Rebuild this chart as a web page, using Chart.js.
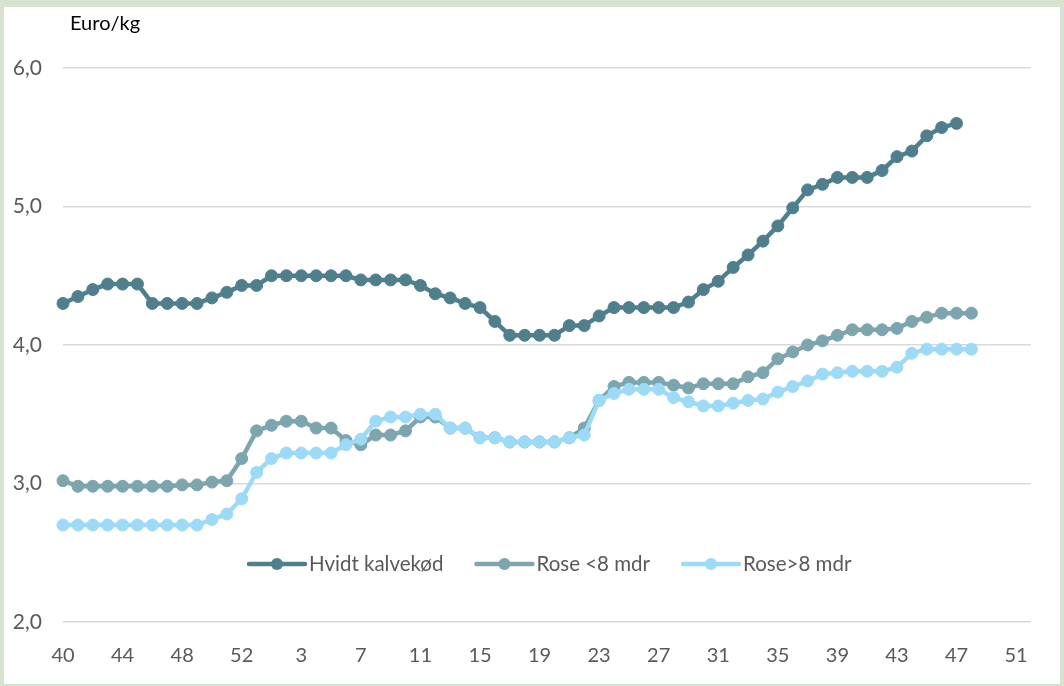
<!DOCTYPE html>
<html>
<head>
<meta charset="utf-8">
<script src="https://cdn.jsdelivr.net/npm/chart.js@4/dist/chart.umd.min.js"></script>
<style>
  html, body { margin: 0; padding: 0; background: #d7e3cf; }
  #frame { position: absolute; left: 4px; top: 7px; width: 1056px; height: 677px; background: #fff; }
  canvas { display: block; }
</style>
</head>
<body>
<div id="frame"><canvas id="c" width="1056" height="677"></canvas></div>
<script>
// uger: 40-53 og 1-52
const weeks = [40, 41, 42, 43, 44, 45, 46, 47, 48, 49, 50, 51, 52, 53,
  1, 2, 3, 4, 5, 6, 7, 8, 9, 10, 11, 12, 13, 14, 15, 16, 17, 18, 19, 20,
  21, 22, 23, 24, 25, 26, 27, 28, 29, 30, 31, 32, 33, 34, 35, 36, 37, 38,
  39, 40, 41, 42, 43, 44, 45, 46, 47, 48, 49, 50, 51, 52];

const hvidt = [4.30, 4.35, 4.40, 4.44, 4.44, 4.44, 4.30, 4.30, 4.30, 4.30, 4.34, 4.38, 4.43, 4.43,
  4.50, 4.50, 4.50, 4.50, 4.50, 4.50, 4.47, 4.47, 4.47, 4.47, 4.43, 4.37, 4.34, 4.30, 4.27, 4.17,
  4.07, 4.07, 4.07, 4.07, 4.14, 4.14, 4.21, 4.27, 4.27, 4.27, 4.27, 4.27, 4.31, 4.40, 4.46, 4.56,
  4.65, 4.75, 4.86, 4.99, 5.12, 5.16, 5.21, 5.21, 5.21, 5.26, 5.36, 5.40, 5.51, 5.57, 5.60];

const roseUnder8 = [3.02, 2.98, 2.98, 2.98, 2.98, 2.98, 2.98, 2.98, 2.99, 2.99, 3.01, 3.02, 3.18, 3.38,
  3.42, 3.45, 3.45, 3.40, 3.40, 3.31, 3.28, 3.35, 3.35, 3.38, 3.48, 3.48, 3.40, 3.40, 3.33, 3.33,
  3.30, 3.30, 3.30, 3.30, 3.33, 3.40, 3.60, 3.70, 3.73, 3.73, 3.73, 3.71, 3.69, 3.72, 3.72, 3.72,
  3.77, 3.80, 3.90, 3.95, 4.00, 4.03, 4.07, 4.11, 4.11, 4.11, 4.12, 4.17, 4.20, 4.23, 4.23, 4.23];

const roseOver8 = [2.70, 2.70, 2.70, 2.70, 2.70, 2.70, 2.70, 2.70, 2.70, 2.70, 2.74, 2.78, 2.89, 3.08,
  3.18, 3.22, 3.22, 3.22, 3.22, 3.28, 3.32, 3.45, 3.48, 3.48, 3.50, 3.50, 3.40, 3.40, 3.33, 3.33,
  3.30, 3.30, 3.30, 3.30, 3.33, 3.35, 3.60, 3.65, 3.68, 3.68, 3.68, 3.62, 3.59, 3.56, 3.56, 3.58,
  3.60, 3.61, 3.66, 3.70, 3.74, 3.79, 3.80, 3.81, 3.81, 3.81, 3.84, 3.94, 3.97, 3.97, 3.97, 3.97];

const seriesNames = ['Hvidt kalvekød', 'Rose <8 mdr', 'Rose>8 mdr'];
const seriesColors = ['#4f7f8c', '#7ca5ae', '#9cdaf7'];

const FONT = 'Lato, "Open Sans", sans-serif';
const grey = '#595959';

// forklaring med linje + punkt, placeret inde i plotområdet
const lineLegend = {
  id: 'lineLegend',
  afterDraw(chart) {
    const ctx = chart.ctx;
    ctx.save();
    ctx.font = '20.5px ' + FONT;
    ctx.textBaseline = 'middle';
    let x = 245;
    const y = 557;
    seriesNames.forEach((name, i) => {
      ctx.strokeStyle = seriesColors[i];
      ctx.lineWidth = 4.5;
      ctx.lineCap = 'round';
      ctx.beginPath();
      ctx.moveTo(x, y);
      ctx.lineTo(x + 56, y);
      ctx.stroke();
      ctx.fillStyle = seriesColors[i];
      ctx.beginPath();
      ctx.arc(x + 28, y, 6, 0, Math.PI * 2);
      ctx.fill();
      ctx.fillStyle = grey;
      ctx.fillText(name, x + 60, y);
      x += 60 + ctx.measureText(name).width + 33;
    });
    ctx.fillStyle = '#000';
    ctx.font = '20px ' + FONT;
    ctx.textBaseline = 'alphabetic';
    ctx.fillText('Euro/kg', 66, 23);
    ctx.restore();
  }
};

function ds(label, data, color, order) {
  return {
    label: label,
    data: data,
    borderColor: color,
    backgroundColor: color,
    pointBackgroundColor: color,
    pointBorderColor: color,
    borderWidth: 4.5,
    pointRadius: 6,
    pointBorderWidth: 1,
    tension: 0,
    order: order
  };
}

new Chart(document.getElementById('c'), {
  type: 'line',
  data: {
    labels: weeks,
    datasets: [
      ds(seriesNames[0], hvidt, seriesColors[0], 2),
      ds(seriesNames[1], roseUnder8, seriesColors[1], 1),
      ds(seriesNames[2], roseOver8, seriesColors[2], 0)
    ]
  },
  options: {
    responsive: false,
    animation: false,
    devicePixelRatio: 1,
    layout: { padding: { top: 61, right: 29, left: 0, bottom: 0 } },
    plugins: {
      legend: { display: false },
      tooltip: { enabled: false }
    },
    scales: {
      x: {
        type: 'category',
        offset: false,
        grid: { display: false },
        border: { display: false },
        ticks: {
          autoSkip: false,
          maxRotation: 0,
          padding: 14,
          color: grey,
          font: { family: FONT, size: 20 },
          callback: function(value, index) {
            return index % 4 === 0 ? this.getLabelForValue(value) : null;
          }
        },
        afterFit(scale) { scale.height = 62; }
      },
      y: {
        min: 2,
        max: 6,
        grid: { color: '#d9d9d9', lineWidth: 1.5, drawTicks: false },
        border: { display: false },
        ticks: {
          stepSize: 1,
          padding: 21,
          color: grey,
          font: { family: FONT, size: 21 },
          callback: v => v.toFixed(1).replace('.', ',')
        },
        afterFit(scale) { scale.width = 59; }
      }
    }
  },
  plugins: [lineLegend]
});
</script>
</body>
</html>
